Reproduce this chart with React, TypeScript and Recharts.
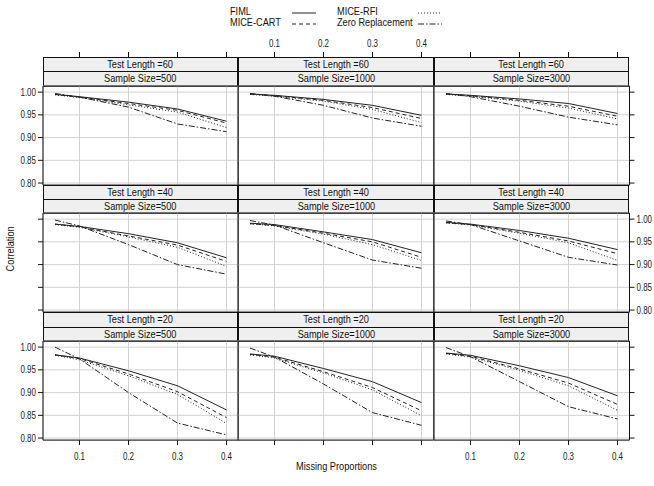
import React from 'react';
import { CartesianGrid, Line, LineChart, XAxis, YAxis } from 'recharts';

const missing = [0.05, 0.1, 0.2, 0.3, 0.4];
const testLengths = [60, 40, 20];
const sampleSizes = [500, 1000, 3000];
const xTicks = [0.1, 0.2, 0.3, 0.4];
const yTicks = [0.8, 0.85, 0.9, 0.95, 1.0];

// one row per panel, row-major: (60,500) (60,1000) (60,3000) (40,500) ... (20,3000)
const fimlValues = [
  [0.995, 0.99, 0.978, 0.963, 0.936],
  [0.996, 0.993, 0.984, 0.971, 0.949],
  [0.996, 0.993, 0.985, 0.975, 0.953],
  [0.989, 0.984, 0.968, 0.948, 0.915],
  [0.991, 0.988, 0.972, 0.955, 0.926],
  [0.993, 0.989, 0.975, 0.958, 0.933],
  [0.983, 0.976, 0.948, 0.915, 0.862],
  [0.985, 0.98, 0.953, 0.924, 0.878],
  [0.987, 0.982, 0.959, 0.933, 0.893],
];
const cartValues = [
  [0.995, 0.989, 0.975, 0.96, 0.932],
  [0.996, 0.992, 0.982, 0.966, 0.942],
  [0.996, 0.992, 0.982, 0.969, 0.947],
  [0.989, 0.983, 0.963, 0.943, 0.907],
  [0.99, 0.986, 0.969, 0.95, 0.916],
  [0.992, 0.988, 0.971, 0.952, 0.924],
  [0.983, 0.975, 0.941, 0.902, 0.845],
  [0.984, 0.978, 0.946, 0.911, 0.86],
  [0.986, 0.98, 0.952, 0.921, 0.874],
];
const rfiValues = [
  [0.994, 0.988, 0.972, 0.956, 0.922],
  [0.995, 0.991, 0.98, 0.962, 0.933],
  [0.995, 0.991, 0.98, 0.965, 0.941],
  [0.988, 0.982, 0.961, 0.938, 0.896],
  [0.99, 0.985, 0.967, 0.944, 0.909],
  [0.992, 0.987, 0.969, 0.948, 0.909],
  [0.982, 0.972, 0.937, 0.896, 0.832],
  [0.983, 0.976, 0.943, 0.906, 0.849],
  [0.985, 0.978, 0.949, 0.915, 0.861],
];
const zeroValues = [
  [0.997, 0.989, 0.967, 0.93, 0.913],
  [0.997, 0.991, 0.971, 0.943, 0.925],
  [0.997, 0.99, 0.969, 0.945, 0.928],
  [0.998, 0.985, 0.944, 0.9, 0.879],
  [0.997, 0.987, 0.948, 0.91, 0.892],
  [0.996, 0.988, 0.952, 0.916, 0.899],
  [1.0, 0.974, 0.9, 0.833, 0.807],
  [0.998, 0.978, 0.919, 0.856, 0.828],
  [0.999, 0.979, 0.924, 0.869, 0.842],
];

const series = [
  { key: 'fiml', name: 'FIML', dash: undefined },
  { key: 'cart', name: 'MICE-CART', dash: '4 3' },
  { key: 'rfi', name: 'MICE-RFI', dash: '1 2' },
  { key: 'zero', name: 'Zero Replacement', dash: '6 2 1.5 2' },
];

const FONT = '"Liberation Sans", Arial, sans-serif';
const SQUEEZE = 0.8;
const COL_LEFT = 42.7;
const COL_W = 195.5;
const TOP = 57;
const ROW_H = 127.7;
const STRIP_H = 14.3;
const PLOT_H = ROW_H - 2 * STRIP_H;
const AX = 40;
const AXH = 30;
const X_DOMAIN = [0.0255, 0.4245];
const Y_DOMAIN = [0.7955, 1.0135];
const LINE = '#222';
const INK = '#111';

// tick label squeezed horizontally around its anchor, to mimic the narrow font
const makeTick = (show: boolean, digits: number, dy: string) => (props: any) => {
  const { x, y, payload, textAnchor } = props;
  if (!show) return <g />;
  return (
    <text
      x={x}
      y={y}
      dy={dy}
      textAnchor={textAnchor}
      fontSize={10}
      fontFamily={FONT}
      fill="#222"
      transform={`translate(${x},${y}) scale(${SQUEEZE},1) translate(${-x},${-y})`}
    >
      {Number(payload.value).toFixed(digits)}
    </text>
  );
};

const Squeezed = ({ children }: { children: React.ReactNode }) => (
  <span style={{ display: 'inline-block', transform: `scaleX(${SQUEEZE})`, whiteSpace: 'nowrap' }}>{children}</span>
);

const Strip = ({ left, top, text }: { left: number; top: number; text: string }) => (
  <div
    style={{
      position: 'absolute',
      left,
      top,
      width: COL_W,
      height: STRIP_H + 1,
      boxSizing: 'border-box',
      border: `1px solid ${INK}`,
      background: '#efefef',
      fontFamily: FONT,
      fontSize: 11.5,
      lineHeight: `${STRIP_H - 1}px`,
      textAlign: 'center',
      color: INK,
    }}
  >
    <Squeezed>{text}</Squeezed>
  </div>
);

// top axis of the whole lattice sits above the strips of the first row
const TopAxis = ({ col }: { col: number }) => {
  const left = COL_LEFT + col * COL_W;
  return (
    <div style={{ position: 'absolute', left: left - AX, top: TOP - AXH }}>
      <LineChart width={COL_W + 2 * AX} height={AXH + 2} data={missing.map((x) => ({ x }))} margin={{ top: 0, right: AX, bottom: 0, left: AX }}>
        <XAxis
          type="number"
          dataKey="x"
          domain={X_DOMAIN}
          ticks={xTicks}
          interval={0}
          allowDataOverflow
          orientation="top"
          height={AXH}
          axisLine={false}
          tickLine={{ stroke: INK }}
          tickSize={5}
          tickMargin={4}
          tick={makeTick(col === 1, 1, '-0.1em')}
        />
      </LineChart>
    </div>
  );
};

const Panel = ({ row, col }: { row: number; col: number }) => {
  const p = row * 3 + col;
  const data = missing.map((x, i) => ({
    x,
    fiml: fimlValues[p][i],
    cart: cartValues[p][i],
    rfi: rfiValues[p][i],
    zero: zeroValues[p][i],
  }));
  const left = COL_LEFT + col * COL_W;
  const top = TOP + row * ROW_H;
  const plotTop = top + 2 * STRIP_H;
  const axisLine = { stroke: INK };
  const tl = { stroke: INK };
  return (
    <>
      <Strip left={left} top={top} text={`Test Length =${testLengths[row]}`} />
      <Strip left={left} top={top + STRIP_H} text={`Sample Size=${sampleSizes[col]}`} />
      <div style={{ position: 'absolute', left: left - AX, top: plotTop - AXH }}>
        <LineChart
          width={COL_W + 2 * AX}
          height={PLOT_H + 2 * AXH}
          data={data}
          margin={{ top: 0, right: 0, bottom: 0, left: 0 }}
        >
          <CartesianGrid xAxisId="b" yAxisId="l" stroke="#d2d2d2" />
          <XAxis
            xAxisId="b"
            type="number"
            dataKey="x"
            domain={X_DOMAIN}
            ticks={xTicks}
            interval={0}
            allowDataOverflow
            orientation="bottom"
            height={AXH}
            axisLine={axisLine}
            tickLine={row === 2 ? tl : false}
            tickSize={5}
            tickMargin={8}
            tick={makeTick(row === 2 && col !== 1, 1, '0.71em')}
          />
          <XAxis
            xAxisId="t"
            type="number"
            dataKey="x"
            domain={X_DOMAIN}
            ticks={xTicks}
            interval={0}
            allowDataOverflow
            orientation="top"
            height={AXH}
            axisLine={axisLine}
            tickLine={false}
            tick={false}
          />
          <YAxis
            yAxisId="l"
            type="number"
            domain={Y_DOMAIN}
            ticks={yTicks}
            interval={0}
            allowDataOverflow
            orientation="left"
            width={AX}
            axisLine={axisLine}
            tickLine={col === 0 ? tl : false}
            tickSize={5}
            tickMargin={2}
            tick={makeTick(col === 0 && row !== 1, 2, '0.355em')}
          />
          <YAxis
            yAxisId="r"
            type="number"
            domain={Y_DOMAIN}
            ticks={yTicks}
            interval={0}
            allowDataOverflow
            orientation="right"
            width={AX}
            axisLine={axisLine}
            tickLine={col === 2 ? tl : false}
            tickSize={5}
            tickMargin={2}
            tick={makeTick(col === 2 && row === 1, 2, '0.355em')}
          />
          {series.map((s) => (
            <Line
              key={s.key}
              xAxisId="b"
              yAxisId="l"
              type="linear"
              dataKey={s.key}
              stroke={LINE}
              strokeWidth={1}
              strokeDasharray={s.dash}
              dot={false}
              isAnimationActive={false}
            />
          ))}
        </LineChart>
      </div>
    </>
  );
};

const Legend = () => {
  const pos = [
    { tx: 230, kx: 292, y: 11 },
    { tx: 230, kx: 292, y: 22 },
    { tx: 337, kx: 418, y: 11 },
    { tx: 337, kx: 418, y: 22 },
  ];
  return (
    <svg width={654} height={34} style={{ position: 'absolute', left: 0, top: 0 }}>
      {series.map((s, i) => (
        <g key={s.key}>
          <text
            x={pos[i].tx}
            y={pos[i].y + 4}
            fontSize={11.5}
            fontFamily={FONT}
            fill={INK}
            transform={`translate(${pos[i].tx},0) scale(${SQUEEZE},1) translate(${-pos[i].tx},0)`}
          >
            {s.name}
          </text>
          <line
            x1={pos[i].kx}
            x2={pos[i].kx + 24}
            y1={pos[i].y + 2}
            y2={pos[i].y + 2}
            stroke={LINE}
            strokeWidth={1}
            strokeDasharray={s.dash}
          />
        </g>
      ))}
    </svg>
  );
};

export default function App() {
  const panels = [];
  for (let r = 0; r < 3; r++) for (let c = 0; c < 3; c++) panels.push(<Panel key={`${r}-${c}`} row={r} col={c} />);
  return (
    <div style={{ position: 'absolute', left: 0, top: 0, width: 654, height: 486, background: '#fff', overflow: 'hidden' }}>
      <Legend />
      {[0, 1, 2].map((c) => (
        <TopAxis key={c} col={c} />
      ))}
      {panels}
      <div
        style={{
          position: 'absolute',
          left: 12 - 40,
          top: 249 - 8,
          width: 80,
          height: 16,
          transform: 'rotate(-90deg)',
          textAlign: 'center',
          fontFamily: FONT,
          fontSize: 11.5,
          color: INK,
        }}
      >
        <Squeezed>Correlation</Squeezed>
      </div>
      <div
        style={{
          position: 'absolute',
          left: 336 - 70,
          top: 460,
          width: 140,
          textAlign: 'center',
          fontFamily: FONT,
          fontSize: 11.5,
          color: INK,
        }}
      >
        <Squeezed>Missing Proportions</Squeezed>
      </div>
    </div>
  );
}
